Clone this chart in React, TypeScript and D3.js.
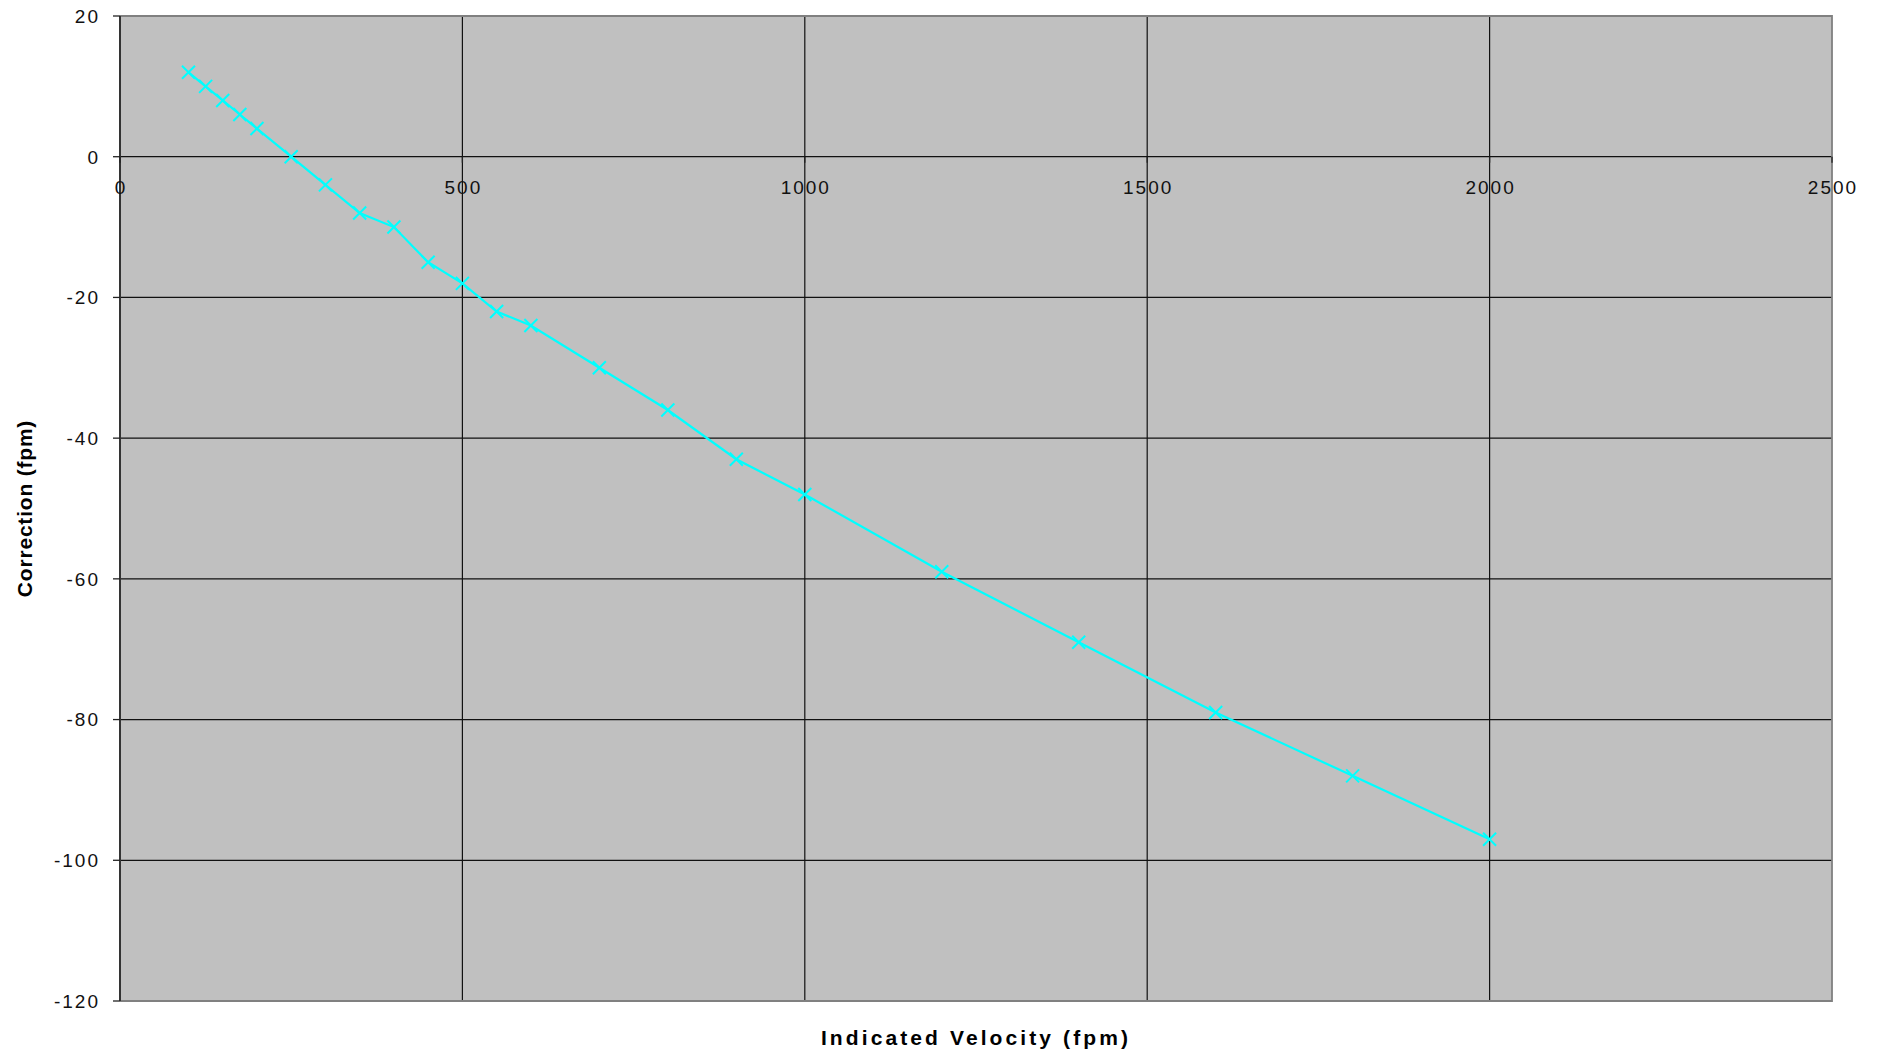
import React from "react";
import * as d3 from "d3";

const velocity = [100, 125, 150, 175, 200, 250, 300, 350, 400, 450, 500, 550, 600, 700, 800, 900, 1000, 1200, 1400, 1600, 1800, 2000];
const correction = [12, 10, 8, 6, 4, 0, -4, -8, -10, -15, -18, -22, -24, -30, -36, -43, -48, -59, -69, -79, -88, -97];
const xTicks = [0, 500, 1000, 1500, 2000, 2500];
const yTicks = [20, 0, -20, -40, -60, -80, -100, -120];
const xTitle = "Indicated Velocity (fpm)";
const yTitle = "Correction (fpm)";

const W = 1879, H = 1056;
const L = 120, R = 1832, T = 16, B = 1001;

export default function App() {
  const x = d3.scaleLinear().domain([0, 2500]).range([L, R]);
  const y = d3.scaleLinear().domain([-120, 20]).range([B, T]);
  const pts = velocity.map((v, i) => [x(v), y(correction[i])] as [number, number]);
  const line = d3.line()(pts) || "";
  const font = "Arial, 'Liberation Sans', Helvetica, sans-serif";
  const m = 6.5;
  return (
    <svg width={W} height={H} style={{ position: "absolute", left: 0, top: 0 }} fontFamily={font}>
      <rect x={L} y={T} width={R - L} height={B - T} fill="#c0c0c0" />
      {yTicks.filter(t => t !== 20 && t !== -120).map(t => (
        <line key={"gy" + t} x1={L} x2={R} y1={y(t)} y2={y(t)} stroke="#111" strokeWidth={1.2} />
      ))}
      {xTicks.filter(t => t !== 0 && t !== 2500).map(t => (
        <line key={"gx" + t} x1={x(t)} x2={x(t)} y1={T} y2={B} stroke="#111" strokeWidth={1.2} />
      ))}
      <path d={`M${L},${T}H${R}V${B}H${L}`} fill="none" stroke="#808080" strokeWidth={1.8} />
      <line x1={L} x2={L} y1={T} y2={B} stroke="#333" strokeWidth={2} />
      {yTicks.map(t => (
        <g key={"ty" + t}>
          <line x1={L - 7} x2={L} y1={y(t)} y2={y(t)} stroke="#222" strokeWidth={1.3} />
          <text x={L - 20} y={y(t)} dy="0.36em" textAnchor="end" fontSize={19} letterSpacing={2} fill="#111">{t}</text>
        </g>
      ))}
      {xTicks.map(t => (
        <g key={"tx" + t}>
          <line x1={x(t)} x2={x(t)} y1={y(0)} y2={y(0) + 6} stroke="#222" strokeWidth={1.3} />
          <text x={x(t) + 1} y={y(0) + 37} textAnchor="middle" fontSize={19} letterSpacing={2} fill="#111">{t}</text>
        </g>
      ))}
      <path d={line} fill="none" stroke="#00ffff" strokeWidth={2.2} />
      {pts.map(([px, py], i) => (
        <path key={"m" + i} d={`M${px - m},${py - m}L${px + m},${py + m}M${px - m},${py + m}L${px + m},${py - m}`} stroke="#00ffff" strokeWidth={2} />
      ))}
      <text x={(L + R) / 2} y={1045} textAnchor="middle" fontSize={21} fontWeight="bold" letterSpacing={3.1} fill="#000">{xTitle}</text>
      <text transform={`translate(32,${(T + B) / 2}) rotate(-90)`} textAnchor="middle" fontSize={21} fontWeight="bold" letterSpacing={0.8} fill="#000">{yTitle}</text>
    </svg>
  );
}
